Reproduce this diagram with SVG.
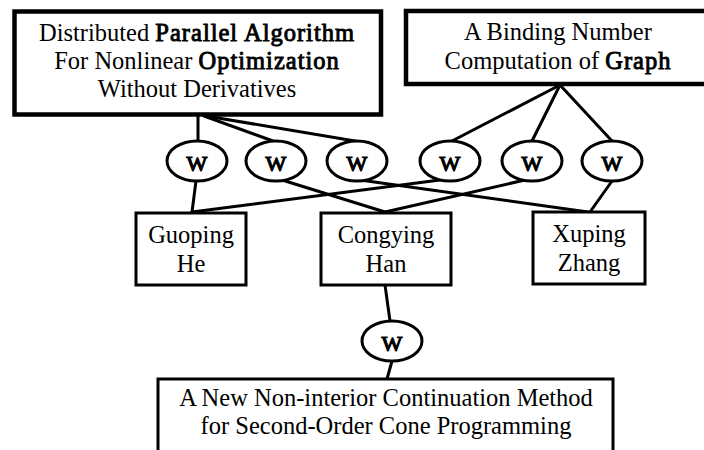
<svg xmlns="http://www.w3.org/2000/svg" width="704" height="450" viewBox="0 0 704 450">
  <style>
    .box { fill: #fff; stroke: #000; stroke-width: 3; }
    .box-heavy { fill: #fff; stroke: #000; stroke-width: 4.5; }
    .link { fill: none; stroke: #000; stroke-width: 3; stroke-linecap: round; }
    .w { fill: #fff; stroke: #000; stroke-width: 3; }
    .t { font-family: "Liberation Serif", "Times New Roman", serif; font-size: 24.5px; fill: #000; text-anchor: middle; }
    /* heavier serif weight drawn with a thin outline on the regular face */
    .wl { font-family: "Liberation Serif", "Times New Roman", serif; font-size: 22px; fill: #000; stroke: #000; stroke-width: 1.2; text-anchor: middle; }
    .b { stroke: #000; stroke-width: 0.9; letter-spacing: 1px; }
  </style>
  <rect width="704" height="450" fill="#fff"/>

  <!-- connectors -->
  <g id="connectors">
    <line class="link" x1="198" y1="116" x2="198" y2="141"/>
    <line class="link" x1="204" y1="116" x2="273" y2="141"/>
    <line class="link" x1="206" y1="116" x2="355" y2="141"/>
    <line class="link" x1="560" y1="85" x2="452" y2="141"/>
    <line class="link" x1="560" y1="85" x2="532" y2="141"/>
    <line class="link" x1="560" y1="85" x2="612" y2="141"/>
    <line class="link" x1="196" y1="181" x2="192" y2="212"/>
    <line class="link" x1="282" y1="180" x2="385" y2="212"/>
    <line class="link" x1="360" y1="180" x2="588" y2="212"/>
    <line class="link" x1="440" y1="180" x2="192" y2="212"/>
    <line class="link" x1="525" y1="180" x2="385" y2="212"/>
    <line class="link" x1="612" y1="181" x2="590" y2="212"/>
    <line class="link" x1="385" y1="285" x2="390" y2="321"/>
    <line class="link" x1="392" y1="361" x2="387" y2="379"/>
  </g>

  <!-- papers -->
  <g id="paper-parallel">
    <rect class="box-heavy" x="14.5" y="11.5" width="366.5" height="103"/>
    <text class="t" x="197" y="41">Distributed <tspan class="b">Parallel Algorithm</tspan></text>
    <text class="t" x="197" y="69">For Nonlinear <tspan class="b">Optimization</tspan></text>
    <text class="t" x="197" y="97">Without Derivatives</text>
  </g>
  <g id="paper-graph">
    <rect class="box-heavy" x="406" y="11" width="306" height="73"/>
    <text class="t" x="558" y="40">A Binding Number</text>
    <text class="t" x="558" y="69">Computation of <tspan class="b">Graph</tspan></text>
  </g>
  <g id="paper-socp">
    <rect class="box" x="158" y="379" width="455" height="90"/>
    <text class="t" x="386" y="406">A New Non-interior Continuation Method</text>
    <text class="t" x="386" y="434">for Second-Order Cone Programming</text>
  </g>

  <!-- authors -->
  <g id="author-he">
    <rect class="box" x="136" y="213" width="110" height="72"/>
    <text class="t" x="191" y="243">Guoping</text>
    <text class="t" x="191" y="272">He</text>
  </g>
  <g id="author-han">
    <rect class="box" x="321" y="213" width="130" height="72"/>
    <text class="t" x="386" y="243">Congying</text>
    <text class="t" x="386" y="272">Han</text>
  </g>
  <g id="author-zhang">
    <rect class="box" x="533" y="212" width="112" height="72"/>
    <text class="t" x="589" y="242">Xuping</text>
    <text class="t" x="589" y="271">Zhang</text>
  </g>

  <!-- authorship (W) nodes -->
  <g id="w1"><ellipse class="w" cx="197" cy="161" rx="30" ry="20"/><text class="wl" x="197" y="171">W</text></g>
  <g id="w2"><ellipse class="w" cx="276" cy="161" rx="30" ry="20"/><text class="wl" x="276" y="171">W</text></g>
  <g id="w3"><ellipse class="w" cx="357" cy="161" rx="30" ry="20"/><text class="wl" x="357" y="171">W</text></g>
  <g id="w4"><ellipse class="w" cx="450" cy="161" rx="30" ry="20"/><text class="wl" x="450" y="171">W</text></g>
  <g id="w5"><ellipse class="w" cx="532" cy="161" rx="30" ry="20"/><text class="wl" x="532" y="171">W</text></g>
  <g id="w6"><ellipse class="w" cx="612" cy="161" rx="30" ry="20"/><text class="wl" x="612" y="171">W</text></g>
  <g id="w7"><ellipse class="w" cx="392" cy="341" rx="30" ry="20"/><text class="wl" x="392" y="351">W</text></g>
</svg>
